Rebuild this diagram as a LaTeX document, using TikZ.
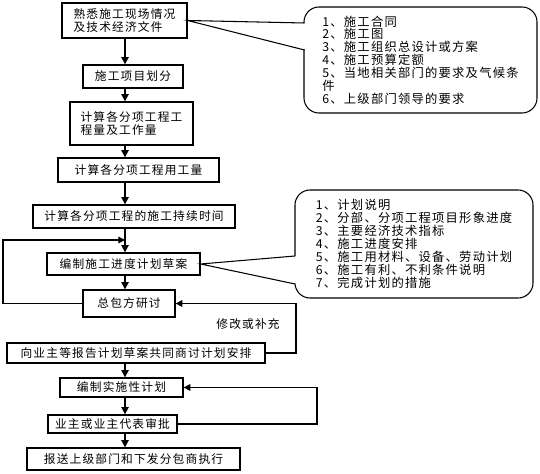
\documentclass[tikz,border=0pt]{standalone}
\usepackage{fontspec}
\setmainfont[LetterSpace=10]{Noto Sans CJK SC}
\usetikzlibrary{arrows.meta}
\newdimen\px \px=0.3mm

\begin{document}
\begin{tikzpicture}[x=0.3mm,y=-0.3mm,
  box/.style={draw,line width=1.1pt,inner sep=0pt,align=left,font=\fontsize{10}{11.5}\selectfont},
  bubble/.style={draw,line width=0.9pt,rounded corners=4.5mm,inner sep=0pt,align=left,font=\fontsize{10.5}{11}\selectfont},
  arr/.style={-{Triangle[length=2.2mm,width=2.2mm]},line width=1.3pt},
  back/.style={-{Triangle[length=2mm,width=2mm]},line width=0.9pt}]
\useasboundingbox (0,0) rectangle (540,474);
\coordinate (ax) at (125,0);
\coordinate (lx) at (3,0);
\coordinate (rx) at (296,0);
\coordinate (rrx) at (317,0);
\coordinate (join) at (125,240);
\node[box,minimum width=125\px,minimum height=35\px] (site) at (124.5,20.5) {熟悉施工现场情况\\及技术经济文件};
\node[box,minimum width=100\px,minimum height=23\px] (split) at (133,76.5) {施工项目划分};
\node[box,minimum width=123\px,minimum height=43\px] (qty) at (131.5,123.5) {计算各分项工程工\\程量及工作量};
\node[box,minimum width=161\px,minimum height=24\px] (labor) at (138.5,170) {计算各分项工程用工量};
\node[box,minimum width=202\px,minimum height=23\px] (dur) at (134,216.5) {计算各分项工程的施工持续时间};
\node[box,minimum width=153\px,minimum height=22\px] (draft) at (123.5,264) {编制施工进度计划草案};
\node[box,minimum width=92\px,minimum height=27\px] (talk) at (129,303.5) {总包方研讨};
\node[box,minimum width=258\px,minimum height=20\px] (owner) at (136,353) {向业主等报告计划草案共同商讨计划安排};
\node[box,minimum width=123\px,minimum height=19\px] (plan) at (121.5,387.5) {编制实施性计划};
\node[box,minimum width=129\px,minimum height=18\px] (check) at (112.5,424) {业主或业主代表审批};
\node[box,minimum width=213\px,minimum height=22\px] (send) at (133.5,459) {报送上级部门和下发分包商执行};
\node[bubble,minimum width=233\px,minimum height=106\px] (docs) at (420.5,60) {1、施工合同\\2、施工图\\3、施工组织总设计或方案\\4、施工预算定额\\5、当地相关部门的要求及气候条\\件\\6、上级部门领导的要求};
\node[bubble,minimum width=238\px,minimum height=108\px] (items) at (414,244) {1、计划说明\\2、分部、分项工程项目形象进度\\3、主要经济技术指标\\4、施工进度安排\\5、施工用材料、设备、劳动计划\\6、施工有利、不利条件说明\\7、完成计划的措施};
\node[font=\fontsize{10}{11}\selectfont] (fix) at (248,324) {修改或补充};
\coordinate (wa1) at (304.5,23);
\coordinate (wa2) at (304.5,50);
\coordinate (wb1) at (295,256);
\coordinate (wb2) at (295,284);
\fill[white] (site.east) -- ([xshift=1mm]wa1) -- ([xshift=1mm]wa2) -- cycle;
\draw[line width=0.9pt] (wa1) -- (site.east) -- (wa2);
\fill[white] (draft.east) -- ([xshift=1mm]wb1) -- ([xshift=1mm]wb2) -- cycle;
\draw[line width=0.9pt] (wb1) -- (draft.east) -- (wb2);
\draw[arr] (site.south -| ax) -- (split.north -| ax);
\draw[arr] (split.south -| ax) -- (qty.north -| ax);
\draw[arr] (qty.south -| ax) -- (labor.north -| ax);
\draw[arr] (labor.south -| ax) -- (dur.north -| ax);
\draw[arr] (dur.south -| ax) -- (draft.north -| ax);
\draw[arr] (draft.south -| ax) -- (talk.north -| ax);
\draw[arr] (owner.south -| ax) -- (plan.north -| ax);
\draw[arr] (plan.south -| ax) -- (check.north -| ax);
\draw[arr] (check.south -| ax) -- (send.north -| ax);
\draw[back] (talk.west) -- (talk.west -| lx) |- (join);
\draw[back] (owner.east) -- (owner.east -| rx) |- (talk.east);
\draw[back] (check.east) -- (check.east -| rrx) |- (plan.east);
\end{tikzpicture}
\end{document}
